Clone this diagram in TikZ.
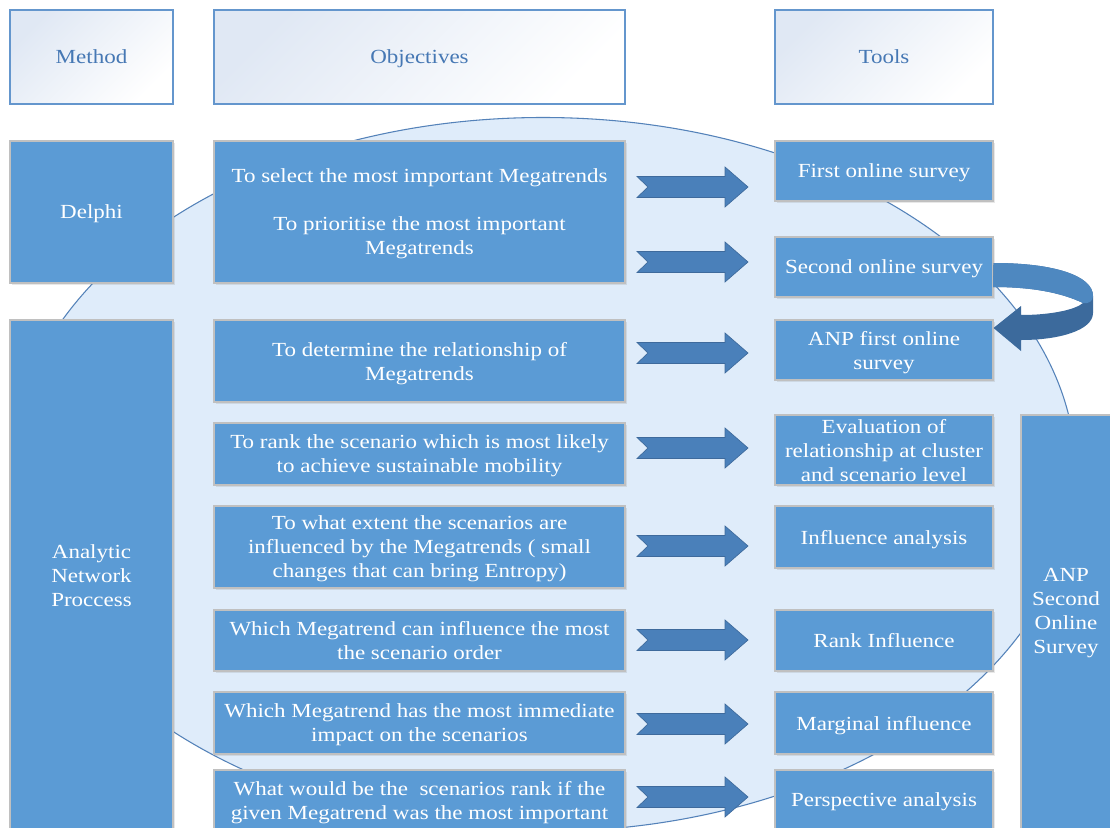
\documentclass[tikz,border=0pt]{standalone}
\usepackage{fontspec}
\setmainfont{Liberation Serif}[FakeStretch=1.15]
\usetikzlibrary{shadows}
\definecolor{boxblue}{RGB}{91,155,213}
\definecolor{boxedge}{RGB}{192,192,192}
\definecolor{ellfill}{RGB}{223,236,250}
\definecolor{elledge}{RGB}{84,130,185}
\definecolor{arrfill}{RGB}{74,128,186}
\definecolor{arredge}{RGB}{62,106,156}
\definecolor{hdredge}{RGB}{100,150,205}
\definecolor{hdrtext}{RGB}{70,120,180}
\definecolor{hdrshade}{RGB}{224,232,244}
\definecolor{loopdark}{RGB}{60,106,156}
\definecolor{looplight}{RGB}{78,136,192}
\tikzset{
  sz/.style 2 args={minimum width=#1*0.75pt, minimum height=#2*0.75pt},
  bluebox/.style={rectangle, inner sep=0pt, text depth=0pt, draw=boxedge, line width=0.8pt, fill=boxblue, text=white, align=center,
    drop shadow={opacity=0.18, shadow xshift=1.5pt, shadow yshift=-1.5pt}},
  hdrbox/.style={rectangle, inner sep=0pt, text depth=0pt, draw=hdredge, line width=0.8pt, top color=hdrshade, bottom color=white, shading angle=45, text=hdrtext},
  boxtext/.style={text=white, align=center, text depth=0pt},
  blockarr/.pic={\path[fill=arrfill, draw=arredge, line width=0.5pt]
     (-55.5,-10.5) -- (32.5,-10.5) -- (32.5,-20) -- (55.5,0) -- (32.5,20) -- (32.5,10.5) -- (-55.5,10.5) -- (-44.5,0) -- cycle;}
}
\begin{document}
\begin{tikzpicture}[x=0.75pt,y=-0.75pt,
  every node/.style={font=\fontsize{15}{18}\selectfont}]
\fill[white] (0,0) rectangle (1110,828);
\clip (0,0) rectangle (1110,828);

% background ellipse
\path[draw=elledge, fill=ellfill, line width=0.8pt] (543,474.5) ellipse [x radius=533, y radius=357];

% headers
\node[hdrbox, sz={163}{94}] (hmethod) at (91.5,57) {Method};
\node[hdrbox, sz={411}{94}] (hobj) at (419.5,57) {Objectives};
\node[hdrbox, sz={218}{94}] (htools) at (884,57) {Tools};

% methods
\node[bluebox, sz={163}{142}] (delphi) at (91.5,212) {Delphi};
\node[bluebox, sz={163}{512}] (anp) at (91.5,576) {Analytic\\Network\\Proccess};

% objectives
\node[bluebox, sz={411}{142}] (o1) at (419.5,212) {To select the most important Megatrends\\[18pt]To prioritise the most important\\Megatrends};
\node[bluebox, sz={411}{82}] (o2) at (419.5,361) {To determine the relationship of\\Megatrends};
\node[bluebox, sz={411}{62}] (o3) at (419.5,454) {To rank the scenario which is most likely\\to achieve sustainable mobility};
\node[bluebox, sz={411}{82}] (o4) at (419.5,547) {To what extent the scenarios are\\influenced by the Megatrends ( small\\changes that can bring Entropy)};
\node[bluebox, sz={411}{61}] (o5) at (419.5,640.5) {Which Megatrend can influence the most\\the scenario order};
\node[bluebox, sz={411}{62}] (o6) at (419.5,723) {Which Megatrend has the most immediate\\impact on the scenarios};
\node[bluebox, sz={411}{60}] (o7) at (419.5,800) {What would be the\ \ scenarios rank if the\\given Megatrend was the most important};

% tools
\node[bluebox, sz={218}{60}] (t1) at (884,171) {First online survey};
\node[bluebox, sz={218}{60}] (t2) at (884,267) {Second online survey};
\node[bluebox, sz={218}{60}] (t3) at (884,350) {ANP first online\\survey};
\node[bluebox, sz={218}{70}] (t4) at (884,450) {Evaluation of\\relationship at cluster\\and scenario level};
\node[bluebox, sz={218}{62}] (t5) at (884,537) {Influence analysis};
\node[bluebox, sz={218}{61}] (t6) at (884,640.5) {Rank Influence};
\node[bluebox, sz={218}{62}] (t7) at (884,723) {Marginal influence};
\node[bluebox, sz={218}{60}] (t8) at (884,800) {Perspective analysis};

\node[bluebox, sz={91}{417}] (anp2) at (1066.5,623.5) {};
\node[boxtext] (anp2text) at (1066,611) {ANP\\Second\\Online\\Survey};

% block arrows
\pic (a1) at (692.5,187) {blockarr};
\pic (a2) at (692.5,262) {blockarr};
\pic (a3) at (692.5,353) {blockarr};
\pic (a4) at (692.5,448) {blockarr};
\pic (a5) at (692.5,546) {blockarr};
\pic (a6) at (692.5,640) {blockarr};
\pic (a7) at (692.5,724) {blockarr};
\pic (a8) at (692.5,797) {blockarr};

% curved loop arrow from t2 to t3
\path[fill=loopdark] (t2.east |- 0,263) .. controls (1055,263) and (1093,276) .. (1093,296) -- (1093,313)
  .. controls (1093,330) and (1060,340) .. (1021,340) -- (1021,351) -- (t3.east |- 0,328) -- (1021,306) -- (1021,315)
  .. controls (1050,315) and (1075,310) .. (1083,303) .. controls (1060,292) and (1030,287) .. (993,287) -- cycle;
\path[fill=looplight] (t2.east |- 0,263) .. controls (1055,263) and (1093,276) .. (1093,296)
  .. controls (1093,301) and (1089,304) .. (1083,303) .. controls (1060,292) and (1030,287) .. (993,287) -- cycle;
\end{tikzpicture}
\end{document}
